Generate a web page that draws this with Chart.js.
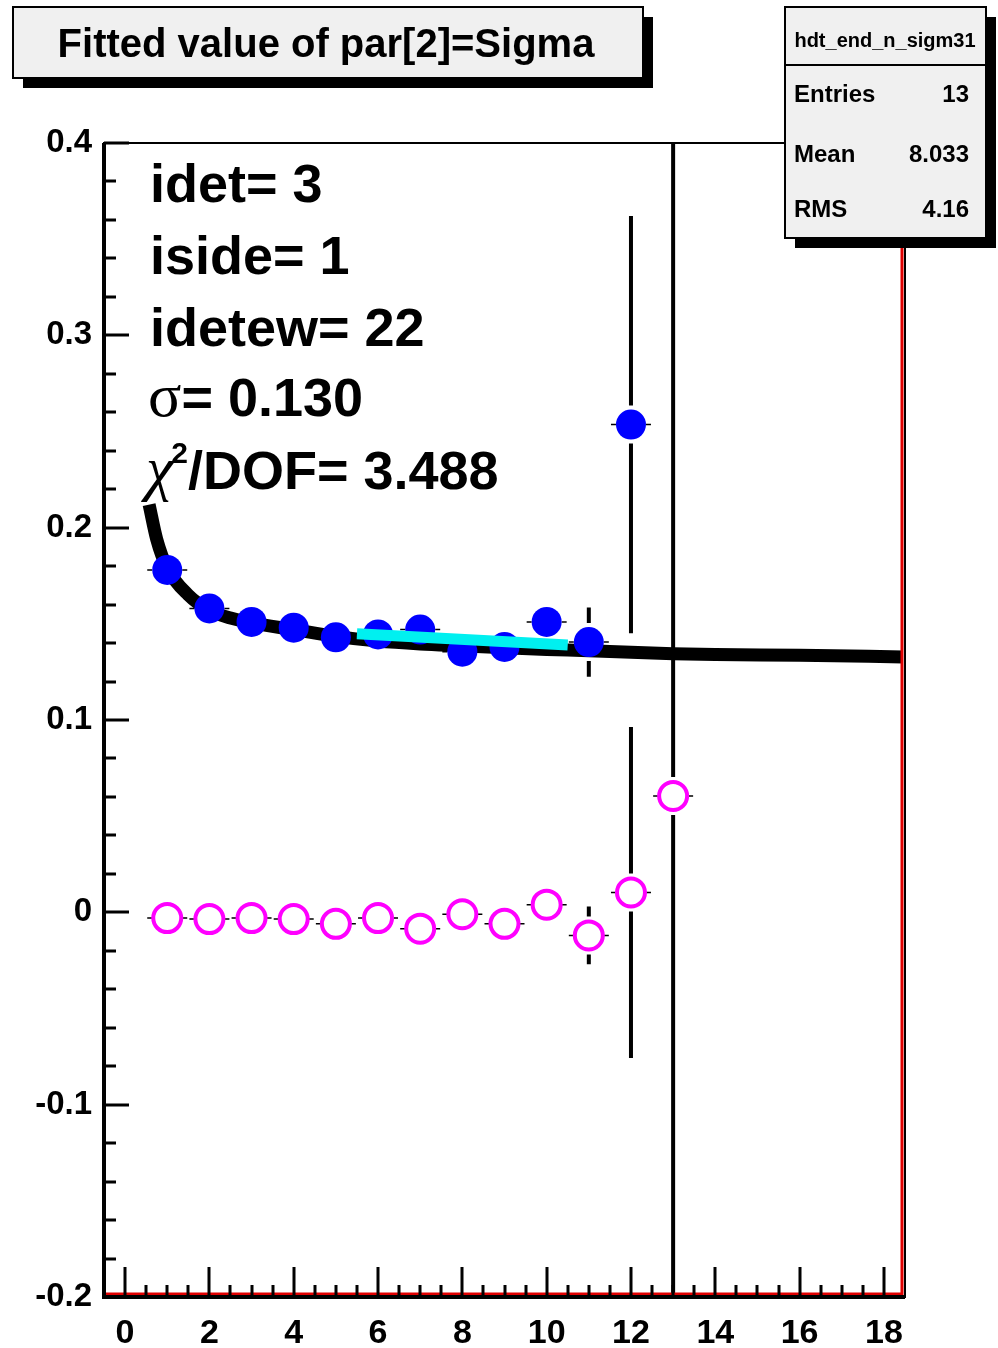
<!DOCTYPE html>
<html>
<head>
<meta charset="utf-8">
<title>Fitted value of par[2]=Sigma</title>
<script src="https://cdn.jsdelivr.net/npm/chart.js@4.4.1/dist/chart.umd.min.js"></script>
<style>
  body { margin: 0; background: #fff; }
  #wrap { width: 998px; height: 1348px; }
</style>
</head>
<body>
<div id="wrap"><canvas id="sigmaChart" width="998" height="1348"></canvas></div>
<script>
// axis labels
const xTickLabels = [0, 2, 4, 6, 8, 10, 12, 14, 16, 18];
const yTickLabels = [-0.2, -0.1, 0, 0.1, 0.2, 0.3, 0.4];

// fitted sigma per bin (filled blue) and its errors
const sigmaBins = [1, 2, 3, 4, 5, 6, 7, 8, 9, 10, 11, 12];
const sigmaValues = [0.178, 0.158, 0.151, 0.148, 0.143, 0.1445, 0.147, 0.1355, 0.138, 0.151, 0.1405, 0.2536];
const sigmaErrors = [0.004, 0.003, 0.003, 0.003, 0.003, 0.003, 0.003, 0.003, 0.003, 0.003, 0.018, 0.1085];

// second series (open magenta) and its errors
const residBins = [1, 2, 3, 4, 5, 6, 7, 8, 9, 10, 11, 12, 13];
const residValues = [-0.003, -0.0035, -0.003, -0.0035, -0.006, -0.003, -0.0085, -0.001, -0.006, 0.004, -0.012, 0.0103, 0.0605];
const residErrors = [0.003, 0.003, 0.003, 0.003, 0.003, 0.003, 0.003, 0.003, 0.003, 0.003, 0.015, 0.086, 0.6];

// fit curve samples
const fitX = [0.57, 0.75, 1, 1.5, 2, 2.5, 3, 4, 5, 6, 7, 8, 9, 10, 11, 12, 13, 14, 16, 18.45];
const fitY = [0.212, 0.194, 0.179, 0.165, 0.157, 0.153, 0.1505, 0.147, 0.1435, 0.141, 0.1395, 0.1385, 0.1375, 0.1367, 0.136, 0.1352, 0.1345, 0.134, 0.1337, 0.1328];

// straight-line fit over bins 6..10
const lineX = [5.5, 10.5];
const lineY = [0.1448, 0.139];

const titleText = 'Fitted value of par[2]=Sigma';
const statsName = 'hdt_end_n_sigm31';
const statNames = ['Entries', 'Mean', 'RMS'];
const statValues = ['13', '8.033', '4.16'];
const infoLines = ['idet= 3', 'iside= 1', 'idetew= 22'];
const sigmaLabel = '= 0.130';
const chi2Label = '/DOF= 3.488';

const SANS = '"Liberation Sans", Arial, Helvetica, sans-serif';
const SERIF = '"Liberation Serif", "Times New Roman", serif';

const zip = (xs, ys) => xs.map((v, i) => ({ x: v, y: ys[i] }));

function drawErrorBars(ctx, xs, ys, bins, vals, errs, r) {
  ctx.strokeStyle = '#000';
  bins.forEach((b, i) => {
    const px = xs.getPixelForValue(b);
    const py = ys.getPixelForValue(vals[i]);
    const up = ys.getPixelForValue(vals[i] + errs[i]);
    const dn = ys.getPixelForValue(vals[i] - errs[i]);
    ctx.lineWidth = 4;
    ctx.beginPath();
    if (py - up > r + 4) { ctx.moveTo(px, py - r - 4); ctx.lineTo(px, up); }
    if (dn - py > r + 4) { ctx.moveTo(px, py + r + 4); ctx.lineTo(px, dn); }
    ctx.stroke();
    // short horizontal marks either side of the marker
    ctx.lineWidth = 1.5;
    ctx.beginPath();
    ctx.moveTo(px - r - 5, py); ctx.lineTo(px - r, py);
    ctx.moveTo(px + r, py); ctx.lineTo(px + r + 5, py);
    ctx.stroke();
  });
}

function drawBox(ctx, x, y, w, h) {
  ctx.fillStyle = '#000';
  ctx.fillRect(x + 10, y + 10, w, h);
  ctx.fillStyle = '#f0f0f0';
  ctx.fillRect(x, y, w, h);
  ctx.strokeStyle = '#000';
  ctx.lineWidth = 2;
  ctx.strokeRect(x, y, w, h);
  ctx.fillStyle = '#000';
}

const rootStyle = {
  id: 'rootStyle',
  beforeDatasetsDraw(chart) {
    const { ctx, chartArea: a, scales: { x, y } } = chart;
    ctx.save();
    ctx.beginPath();
    ctx.rect(a.left, a.top, a.right - a.left, a.bottom - a.top);
    ctx.clip();
    drawErrorBars(ctx, x, y, sigmaBins, sigmaValues, sigmaErrors, 15);
    drawErrorBars(ctx, x, y, residBins, residValues, residErrors, 15);
    ctx.restore();
  },
  afterDatasetsDraw(chart) {
    const { ctx, chartArea: a, scales: { x, y } } = chart;
    ctx.save();
    // red histogram outline just inside the frame
    ctx.strokeStyle = '#e00000';
    ctx.lineWidth = 3;
    ctx.beginPath();
    ctx.moveTo(a.left, a.bottom - 3);
    ctx.lineTo(a.right - 3, a.bottom - 3);
    ctx.lineTo(a.right - 3, a.top);
    ctx.stroke();

    // frame
    ctx.strokeStyle = '#000';
    ctx.lineWidth = 2;
    ctx.strokeRect(a.left, a.top, a.right - a.left, a.bottom - a.top);
    ctx.lineWidth = 4;
    ctx.beginPath();
    ctx.moveTo(a.left, a.top);
    ctx.lineTo(a.left, a.bottom);
    ctx.lineTo(a.right, a.bottom);
    ctx.stroke();

    // y ticks, pointing inward from the left axis
    ctx.lineWidth = 3;
    ctx.beginPath();
    for (let i = 0; i <= 30; i++) {
      const v = -0.2 + i * 0.02;
      const py = Math.round(y.getPixelForValue(v));
      const len = i % 5 === 0 ? 25 : 12;
      ctx.moveTo(a.left, py);
      ctx.lineTo(a.left + len, py);
    }
    // x ticks, pointing up from the bottom axis
    for (let i = 0; i <= 36; i++) {
      const v = i * 0.5;
      const px = Math.round(x.getPixelForValue(v));
      const len = i % 4 === 0 ? 30 : 12;
      ctx.moveTo(px, a.bottom);
      ctx.lineTo(px, a.bottom - len);
    }
    ctx.stroke();
    ctx.restore();
  },
  afterDraw(chart) {
    const { ctx } = chart;
    ctx.save();

    // title box
    drawBox(ctx, 13, 7, 630, 71);
    ctx.font = 'bold 40px ' + SANS;
    ctx.textAlign = 'center';
    ctx.textBaseline = 'alphabetic';
    ctx.fillText(titleText, 326, 57);

    // stats box
    drawBox(ctx, 785, 7, 201, 231);
    ctx.lineWidth = 2;
    ctx.beginPath();
    ctx.moveTo(785, 65);
    ctx.lineTo(986, 65);
    ctx.stroke();
    ctx.font = 'bold 20px ' + SANS;
    ctx.textAlign = 'center';
    ctx.fillText(statsName, 885, 47);
    ctx.font = 'bold 24px ' + SANS;
    const rowY = [102, 162, 217];
    statNames.forEach((n, i) => {
      ctx.textAlign = 'left';
      ctx.fillText(n, 794, rowY[i]);
      ctx.textAlign = 'right';
      ctx.fillText(statValues[i], 969, rowY[i]);
    });

    // fit info text
    ctx.textAlign = 'left';
    ctx.font = 'bold 54px ' + SANS;
    const base = [202, 274, 346];
    infoLines.forEach((t, i) => ctx.fillText(t, 150, base[i]));

    ctx.font = '62px ' + SERIF;
    ctx.fillText('σ', 148, 416);
    let w = ctx.measureText('σ').width;
    ctx.font = 'bold 54px ' + SANS;
    ctx.fillText(sigmaLabel, 148 + w, 416);

    ctx.font = 'italic 62px ' + SERIF;
    ctx.fillText('χ', 146, 489);
    w = ctx.measureText('χ').width;
    ctx.font = 'bold 30px ' + SANS;
    ctx.fillText('2', 146 + w - 2, 463);
    const w2 = ctx.measureText('2').width;
    ctx.font = 'bold 54px ' + SANS;
    ctx.fillText(chi2Label, 146 + w + w2 - 2, 489);

    ctx.restore();
  }
};

const config = {
  type: 'scatter',
  data: {
    datasets: [
      {
        label: 'linear fit',
        type: 'line',
        data: zip(lineX, lineY),
        borderColor: '#00f0f0',
        borderWidth: 11,
        pointRadius: 0,
        borderCapStyle: 'butt',
        order: 0
      },
      {
        label: 'sigma',
        data: zip(sigmaBins, sigmaValues),
        pointRadius: 15,
        pointBackgroundColor: '#0000ff',
        pointBorderWidth: 0,
        borderColor: '#0000ff',
        order: 1
      },
      {
        label: 'residual',
        data: zip(residBins, residValues),
        pointRadius: 14,
        pointBackgroundColor: 'rgba(0,0,0,0)',
        pointBorderColor: '#ff00ff',
        pointBorderWidth: 4,
        order: 2
      },
      {
        label: 'fit',
        type: 'line',
        data: zip(fitX, fitY),
        borderColor: '#000',
        borderWidth: 13,
        pointRadius: 0,
        cubicInterpolationMode: 'monotone',
        order: 3
      }
    ]
  },
  options: {
    responsive: false,
    animation: false,
    devicePixelRatio: 1,
    layout: { padding: { top: 143, right: 93, left: 0, bottom: 0 } },
    plugins: {
      legend: { display: false },
      tooltip: { enabled: false },
      title: { display: false }
    },
    scales: {
      x: {
        type: 'linear',
        min: -0.5,
        max: 18.5,
        grid: { display: false },
        border: { display: false },
        afterBuildTicks: s => { s.ticks = xTickLabels.map(v => ({ value: v })); },
        afterFit: s => { s.height = 51; },
        ticks: {
          color: '#000',
          padding: 8,
          maxRotation: 0,
          autoSkip: false,
          font: { family: SANS, size: 34, weight: 'bold' }
        }
      },
      y: {
        type: 'linear',
        min: -0.2,
        max: 0.4,
        grid: { display: false },
        border: { display: false },
        afterBuildTicks: s => { s.ticks = yTickLabels.map(v => ({ value: v })); },
        afterFit: s => { s.width = 104; },
        ticks: {
          color: '#000',
          padding: 4,
          autoSkip: false,
          font: { family: SANS, size: 33, weight: 'bold' },
          callback: v => (Math.abs(v) < 1e-9 ? '0' : v.toFixed(1))
        }
      }
    }
  },
  plugins: [rootStyle]
};

new Chart(document.getElementById('sigmaChart'), config);
</script>
</body>
</html>
